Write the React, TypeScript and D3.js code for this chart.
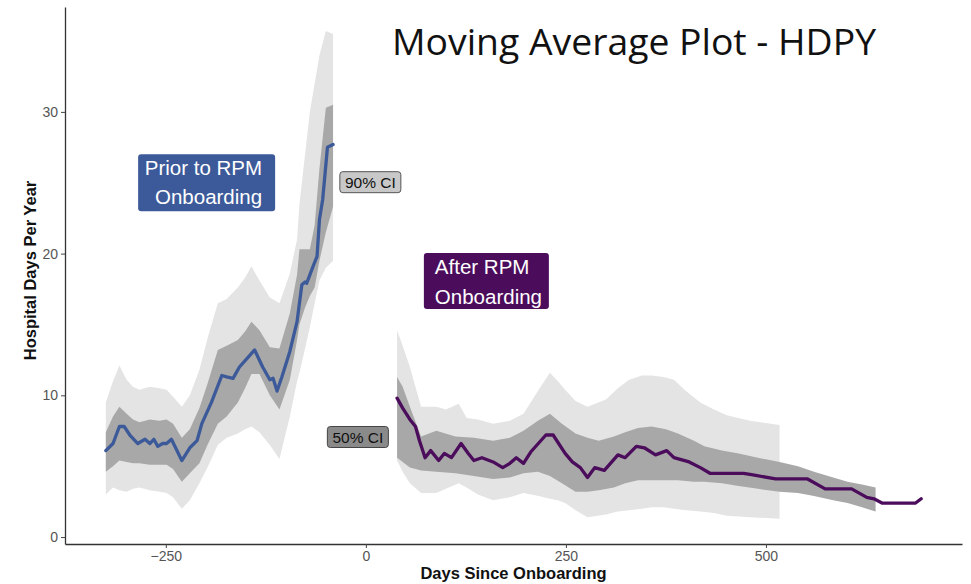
import * as d3 from 'd3';
import { useEffect, useRef } from "react";

const width = 971;
const height = 584;
const marginLeft = 65;
const marginRight = 9;
const marginTop = 7;
const marginBottom = 40;

// prior to onboarding - moving average
const priorDays = [-325, -316, -308, -302, -295, -285, -276, -270, -265, -260, -254, -249, -243, -230, -220, -211, -205, -193, -180, -174, -166, -158, -147, -139, -129, -120, -116, -111, -105, -95, -86, -80, -76, -74, -66, -61, -58, -54, -48, -41];
const priorMean = [6.1, 6.6, 7.8, 7.8, 7.2, 6.6, 6.9, 6.6, 6.9, 6.4, 6.6, 6.6, 6.9, 5.4, 6.3, 6.8, 8.0, 9.5, 11.4, 11.3, 11.2, 12.0, 12.7, 13.2, 12.0, 11.1, 11.2, 10.3, 11.3, 13.1, 15.2, 17.8, 18.0, 17.9, 19.1, 19.8, 22.4, 23.8, 27.5, 27.7];

// prior bands
const priorBandDays = [-325, -316, -308, -299, -291, -283, -270, -258, -249, -241, -230, -220, -208, -198, -185, -174, -160, -151, -143, -133, -120, -108, -95, -86, -83, -76, -70, -64, -58, -50, -41];
const prior90Hi = [9.5, 11.0, 12.1, 11.1, 10.6, 10.4, 10.6, 10.5, 10.4, 9.9, 9.2, 10.0, 11.8, 14.0, 16.5, 16.8, 17.6, 18.3, 19.1, 18.1, 16.9, 16.5, 18.6, 21.0, 23.5, 27.0, 30.0, 32.0, 34.0, 35.7, 35.5];
const prior90Lo = [3.0, 3.5, 3.3, 3.2, 3.4, 3.5, 3.3, 3.2, 3.1, 2.8, 2.0, 2.6, 3.8, 4.9, 6.5, 7.0, 7.3, 7.6, 7.8, 7.4, 6.5, 5.5, 8.5, 11.0, 11.6, 13.3, 14.8, 16.5, 18.1, 19.0, 19.5];
const prior50Hi = [7.4, 8.5, 9.2, 8.7, 8.3, 8.1, 8.3, 8.2, 8.3, 8.0, 7.0, 7.6, 9.1, 10.8, 13.2, 13.5, 13.9, 14.5, 15.2, 14.6, 13.4, 13.3, 15.8, 18.5, 20.3, 20.3, 20.3, 22.0, 26.0, 30.3, 30.5];
const prior50Lo = [4.6, 5.0, 5.4, 5.3, 5.2, 5.2, 5.1, 5.1, 5.1, 4.8, 3.9, 4.5, 5.2, 6.5, 8.0, 8.5, 9.5, 10.5, 11.5, 11.5, 10.0, 9.0, 11.1, 13.9, 15.0, 16.2, 17.0, 17.6, 19.5, 21.5, 23.3];

// after onboarding - moving average
const afterDays = [39, 46, 55, 62, 67, 74, 81, 91, 98, 107, 119, 128, 135, 145, 159, 171, 180, 188, 197, 206, 225, 234, 249, 258, 268, 277, 286, 298, 315, 324, 338, 348, 362, 376, 385, 404, 418, 430, 472, 482, 512, 552, 574, 607, 626, 635, 645, 687, 694];
const afterMean = [9.8, 9.1, 8.3, 7.8, 6.8, 5.6, 6.1, 5.4, 5.9, 5.6, 6.6, 5.9, 5.4, 5.6, 5.3, 4.9, 5.2, 5.6, 5.2, 6.0, 7.2, 7.2, 5.9, 5.3, 4.9, 4.2, 4.9, 4.7, 5.8, 5.6, 6.4, 6.3, 5.8, 6.1, 5.6, 5.3, 4.9, 4.5, 4.5, 4.4, 4.1, 4.1, 3.4, 3.4, 2.8, 2.7, 2.4, 2.4, 2.7];

// after 50% band
const after50Days = [39, 46, 55, 69, 88, 112, 135, 159, 180, 197, 215, 230, 245, 262, 277, 291, 310, 324, 340, 357, 375, 390, 410, 423, 445, 466, 490, 517, 540, 560, 584, 602, 620, 637];
const after50Hi = [11.3, 10.6, 9.2, 7.1, 7.5, 7.1, 7.0, 6.8, 7.0, 7.5, 8.2, 8.7, 8.0, 7.3, 7.0, 6.8, 7.1, 7.4, 7.7, 7.8, 7.6, 7.3, 6.8, 6.4, 6.1, 5.9, 5.6, 5.3, 5.0, 4.6, 4.2, 3.9, 3.7, 3.5];
const after50Lo = [5.6, 5.3, 4.9, 4.7, 4.6, 4.5, 4.3, 4.1, 4.2, 4.5, 4.6, 4.3, 3.8, 3.2, 3.2, 3.3, 3.5, 3.8, 4.0, 4.0, 4.0, 4.0, 3.9, 3.9, 3.8, 3.6, 3.4, 3.2, 3.1, 2.9, 2.6, 2.4, 2.1, 1.8];

// after 90% band
const after90Days = [39, 46, 55, 69, 88, 100, 116, 126, 140, 159, 180, 197, 216, 230, 240, 249, 262, 277, 300, 315, 329, 345, 357, 372, 385, 400, 418, 435, 451, 480, 517];
const after90Hi = [14.6, 13.5, 12.0, 9.2, 9.2, 9.0, 9.4, 8.4, 8.3, 8.0, 8.2, 8.7, 10.4, 11.6, 11.0, 10.4, 9.6, 9.2, 9.7, 10.5, 11.1, 11.4, 11.4, 11.3, 11.1, 10.3, 9.5, 9.0, 8.6, 8.2, 7.9];
const after90Lo = [5.4, 4.6, 3.8, 3.1, 3.1, 3.4, 3.8, 3.5, 3.0, 2.6, 2.8, 3.1, 2.9, 2.7, 2.6, 2.4, 1.9, 1.4, 1.6, 1.8, 1.9, 2.0, 2.1, 2.1, 2.0, 1.9, 1.8, 1.7, 1.5, 1.4, 1.3];

const xTicks = [-250, 0, 250, 500];
const yTicks = [0, 10, 20, 30];

const blue = "#3c5a99";
const purple = "#4b0c5c";
const light = "#e4e4e4";
const dark = "#a8a8a8";
const font = "'Liberation Sans', Arial, sans-serif";

const App = () => {
    const gx = useRef<any>(null);
    const gy = useRef<any>(null);
    const x = d3.scaleLinear([-376, 745], [marginLeft, width - marginRight]);
    const y = d3.scaleLinear([-0.49, 37.4], [height - marginBottom, marginTop]);
    const line = d3.line<[number, number]>();

    const series = (xs: number[], ys: number[]) => xs.map((d, i) => [x(d), y(ys[i])] as [number, number]);
    const band = (xs: number[], lo: number[], hi: number[]) =>
        line([...series(xs, hi), ...series(xs, lo).reverse()]) + "Z";

    useEffect(() => {
        const g = d3.select(gx.current);
        g.call(d3.axisBottom(x).tickValues(xTicks).tickSize(4).tickSizeOuter(0).tickPadding(3));
        g.select(".domain").attr("stroke", "#333").attr("stroke-width", 1.3);
        g.selectAll(".tick line").attr("stroke", "#444");
        g.selectAll(".tick text").attr("fill", "#555").attr("font-size", 14).attr("font-family", font);
    }, [gx, x]);
    useEffect(() => {
        const g = d3.select(gy.current);
        g.call(d3.axisLeft(y).tickValues(yTicks).tickSize(4).tickSizeOuter(0).tickPadding(3));
        g.select(".domain").attr("stroke", "#333").attr("stroke-width", 1.3);
        g.selectAll(".tick line").attr("stroke", "#444");
        g.selectAll(".tick text").attr("fill", "#555").attr("font-size", 14).attr("font-family", font);
    }, [gy, y]);

    // label helper: box centred on a data point
    const label = (cx: number, cy: number, w: number, h: number) => ({
        x: x(cx) - w / 2, y: y(cy) - h / 2, width: w, height: h,
    });
    const prior = label(-199, 25.0, 137, 57);
    const after = label(150.6, 18.07, 125, 56);
    const ci90 = label(5.6, 25.04, 61, 21);
    const ci50 = label(-10, 7.06, 61, 21);

    return (
        <svg width={width} height={height} style={{ position: "absolute", left: 0, top: 0 }} fontFamily={font}>
            <rect width={width} height={height} fill="white" />
            <path d={band(priorBandDays, prior90Lo, prior90Hi)} fill={light} />
            <path d={band(after90Days, after90Lo, after90Hi)} fill={light} />
            <path d={band(priorBandDays, prior50Lo, prior50Hi)} fill={dark} />
            <path d={band(after50Days, after50Lo, after50Hi)} fill={dark} />
            <path d={line(series(priorDays, priorMean)) as string} fill="none" stroke={blue} strokeWidth={3.3} strokeLinejoin="round" strokeLinecap="round" />
            <path d={line(series(afterDays, afterMean)) as string} fill="none" stroke={purple} strokeWidth={3.3} strokeLinejoin="round" strokeLinecap="round" />

            <g ref={gx} transform={`translate(0,${height - marginBottom})`} />
            <g ref={gy} transform={`translate(${marginLeft},0)`} />

            <rect {...prior} rx={3} fill={blue} />
            <text x={prior.x + prior.width - 13} textAnchor="end" fill="white" fontSize={20.5}>
                <tspan y={prior.y + 21}>Prior to RPM</tspan>
                <tspan x={prior.x + prior.width - 13} y={prior.y + 50}>Onboarding</tspan>
            </text>

            <rect {...after} rx={3} fill={purple} />
            <text x={after.x + 11} fill="white" fontSize={20.5}>
                <tspan y={after.y + 21}>After RPM</tspan>
                <tspan x={after.x + 11} y={after.y + 51}>Onboarding</tspan>
            </text>

            <rect {...ci90} rx={3} fill="#c8c8c8" stroke="#555" strokeWidth={1} />
            <text x={ci90.x + ci90.width / 2} y={ci90.y + 16} textAnchor="middle" fontSize={15.5} fill="#111">90% CI</text>

            <rect {...ci50} rx={3} fill="#8a8a8a" stroke="#444" strokeWidth={1} />
            <text x={ci50.x + ci50.width / 2} y={ci50.y + 16.5} textAnchor="middle" fontSize={15.5} fill="#111">50% CI</text>

            <text x={634} y={55} textAnchor="middle" fontSize={36} fontFamily="'Open Sans', sans-serif" fill="#111" textLength={484} lengthAdjust="spacingAndGlyphs">Moving Average Plot - HDPY</text>

            <text x={(marginLeft + width - marginRight) / 2} y={579} textAnchor="middle" fontSize={16.5} fontWeight="bold" fill="#111">Days Since Onboarding</text>
            <text transform={`translate(36,${(marginTop + height - marginBottom) / 2 - 5}) rotate(-90)`} textAnchor="middle" fontSize={16.5} fontWeight="bold" fill="#111">Hospital Days Per Year</text>
        </svg>
    );
};

export default App;
